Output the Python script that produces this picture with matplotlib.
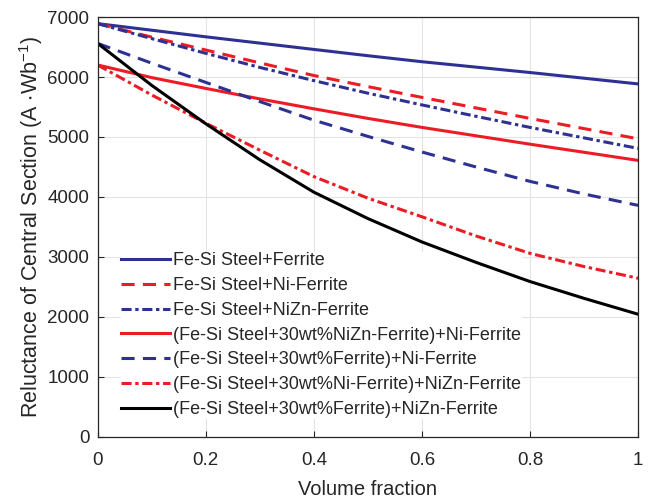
import numpy as np
import matplotlib
matplotlib.use("Agg")
import matplotlib.pyplot as plt

plt.rcParams['font.family'] = ['Liberation Sans', 'DejaVu Sans']
plt.rcParams['mathtext.fontset'] = 'custom'
plt.rcParams['mathtext.rm'] = 'Liberation Sans'
plt.rcParams['mathtext.default'] = 'regular'

BLUE = "#2e3192"
RED = "#ed1c24"
TXT = "#262626"

vol_frac = [0.0, 0.1, 0.2, 0.3, 0.4, 0.5, 0.6, 0.7, 0.8, 0.9, 1.0]

fesi_ferrite      = [6890, 6780, 6670, 6565, 6460, 6355, 6255, 6165, 6075, 5980, 5885]
fesi_ni_ferrite   = [6890, 6665, 6450, 6235, 6025, 5840, 5660, 5485, 5310, 5140, 4970]
fesi_nizn_ferrite = [6890, 6640, 6395, 6160, 5940, 5730, 5535, 5345, 5160, 4985, 4810]
mix_nizn_ni       = [6200, 5990, 5810, 5635, 5470, 5310, 5160, 5020, 4880, 4745, 4610]
mix_ferrite_ni    = [6560, 6230, 5910, 5590, 5280, 5010, 4750, 4500, 4260, 4050, 3860]
mix_ni_nizn       = [6200, 5700, 5230, 4780, 4340, 3980, 3670, 3350, 3060, 2840, 2645]
mix_ferrite_nizn  = [6560, 5860, 5220, 4620, 4080, 3640, 3250, 2910, 2590, 2310, 2045]

labels = [
    "Fe-Si Steel+Ferrite",
    "Fe-Si Steel+Ni-Ferrite",
    "Fe-Si Steel+NiZn-Ferrite",
    "(Fe-Si Steel+30wt%NiZn-Ferrite)+Ni-Ferrite",
    "(Fe-Si Steel+30wt%Ferrite)+Ni-Ferrite",
    "(Fe-Si Steel+30wt%Ni-Ferrite)+NiZn-Ferrite",
    "(Fe-Si Steel+30wt%Ferrite)+NiZn-Ferrite",
]
series = [fesi_ferrite, fesi_ni_ferrite, fesi_nizn_ferrite, mix_nizn_ni,
          mix_ferrite_ni, mix_ni_nizn, mix_ferrite_nizn]
DASH = (0, (4.3, 2.7))
DASHDOT = (0, (3.3, 1.2, 1.1, 1.2))
styles = [(BLUE, "-"), (RED, DASH), (BLUE, DASHDOT),
          (RED, "-"), (BLUE, DASH), (RED, DASHDOT),
          ("black", "-")]

fig = plt.figure(figsize=(6.56, 5.01), dpi=100)
ax = fig.add_axes([0.149, 0.128, 0.8236, 0.838])

for y, lab, (c, ls) in zip(series, labels, styles):
    ax.plot(vol_frac, y, color=c, linestyle=ls, linewidth=2.2, label=lab)

ax.set_xlim(0, 1)
ax.set_ylim(0, 7000)
ax.set_xticks([0, 0.2, 0.4, 0.6, 0.8, 1])
ax.set_xticklabels(["0", "0.2", "0.4", "0.6", "0.8", "1"])
ax.set_yticks(range(0, 7001, 1000))
ax.grid(True, color="#e3e3e3", linewidth=0.8)
ax.set_axisbelow(True)
ax.tick_params(direction="in", length=4, labelsize=13.5, colors=TXT)
ax.tick_params(axis="x", pad=11)
ax.tick_params(axis="y", pad=6)
for sp in ax.spines.values():
    sp.set_color(TXT)
    sp.set_linewidth(0.9)

ax.set_xlabel("Volume fraction", fontsize=14.5, color=TXT, labelpad=8)
ax.set_ylabel(r"Reluctance of Central Section (A $\cdot$Wb$^{-1}$)",
              fontsize=15.5, color=TXT, labelpad=2)

leg = ax.legend(loc="lower left", bbox_to_anchor=(0.043, 0.045), fontsize=13,
                frameon=True, framealpha=1, edgecolor="white",
                handlelength=2.7, handletextpad=0.2, labelspacing=0.43,
                borderaxespad=0.0, borderpad=0.0)
# legend box hides the grid but sits under the curves, as in the original
leg.set_zorder(1)
for t in leg.get_texts():
    t.set_color(TXT)

fig.savefig("out.png", dpi=100)
